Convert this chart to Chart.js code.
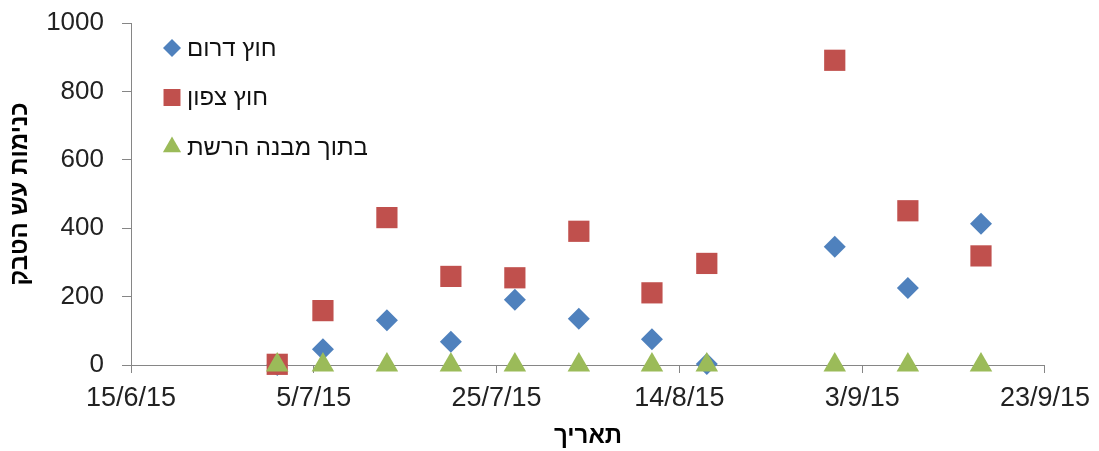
<!DOCTYPE html>
<html lang="he">
<head>
<meta charset="utf-8">
<title>כנימות עש הטבק</title>
<script src="https://cdn.jsdelivr.net/npm/chart.js@4.4.1/dist/chart.umd.min.js"></script>
<style>
  html, body { margin: 0; padding: 0; background: #fff; }
  #wrap { width: 1099px; height: 451px; }
</style>
</head>
<body>
<div id="wrap"><canvas id="chart" width="1099" height="451"></canvas></div>
<script>
// sample dates (d/m/yy) and counts per trap location
const sampleDates = ['1/7/15', '6/7/15', '13/7/15', '20/7/15', '27/7/15', '3/8/15', '11/8/15', '17/8/15', '31/8/15', '8/9/15', '16/9/15'];
const southValues = [0, 46, 131, 68, 191, 135, 75, 3, 346, 225, 413];
const northValues = [2, 159, 431, 259, 255, 391, 211, 297, 891, 451, 319];
const insideValues = [0, 0, 0, 0, 0, 0, 0, 0, 0, 0, 0];
const seriesNames = ['חוץ דרום', 'חוץ צפון', 'בתוך מבנה הרשת'];
const xTickLabels = ['15/6/15', '5/7/15', '25/7/15', '14/8/15', '3/9/15', '23/9/15'];

const DAY = 86400000;
const parseDate = (s) => {
    const [d, m, y] = s.split('/').map(Number);
    return Date.UTC(2000 + y, m - 1, d);
};
const origin = parseDate(xTickLabels[0]);
const toDay = (s) => Math.round((parseDate(s) - origin) / DAY);
const fmtDay = (v) => {
    const dt = new Date(origin + v * DAY);
    return dt.getUTCDate() + '/' + (dt.getUTCMonth() + 1) + '/' + String(dt.getUTCFullYear()).slice(2);
};
const points = (vals) => sampleDates.map((d, i) => ({ x: toDay(d), y: vals[i] }));

const FONT = '"Liberation Sans", Arial, sans-serif';
const axisGray = '#868686';
const legendRadius = [9, 12, 10.5];

// legend drawn inside the plot, top left, one item per row
const insideLegend = {
    id: 'insideLegend',
    afterDatasetsDraw(chart) {
        const { ctx, chartArea } = chart;
        ctx.save();
        ctx.font = '24px ' + FONT;
        ctx.textBaseline = 'middle';
        ctx.textAlign = 'left';
        chart.data.datasets.forEach((ds, i) => {
            const x = chartArea.left + 41;
            const y = chartArea.top + 25 + i * 49.5;
            ctx.fillStyle = ds.backgroundColor;
            ctx.strokeStyle = ds.backgroundColor;
            Chart.helpers.drawPoint(ctx, { pointStyle: ds.pointStyle, radius: legendRadius[i], borderWidth: 0, rotation: 0 }, x, y);
            ctx.fillStyle = '#111';
            ctx.fillText(ds.label, x + 15, y + 1);
        });
        ctx.restore();
    }
};

new Chart(document.getElementById('chart'), {
    type: 'scatter',
    data: {
        datasets: [
            { label: seriesNames[0], data: points(southValues), backgroundColor: '#4F81BD', borderColor: '#4F81BD', pointStyle: 'rectRot', pointRadius: 11, borderWidth: 0, order: 3, clip: false },
            { label: seriesNames[1], data: points(northValues), backgroundColor: '#C0504D', borderColor: '#C0504D', pointStyle: 'rect', pointRadius: 15, borderWidth: 0, order: 2, clip: false },
            { label: seriesNames[2], data: points(insideValues), backgroundColor: '#9BBB59', borderColor: '#9BBB59', pointStyle: 'triangle', pointRadius: 13, borderWidth: 0, order: 1, clip: false }
        ]
    },
    options: {
        responsive: false,
        animation: false,
        devicePixelRatio: 1,
        layout: { autoPadding: false, padding: { top: 23, right: 53, bottom: 0, left: 0 } },
        plugins: { legend: { display: false }, tooltip: { enabled: false } },
        scales: {
            x: {
                type: 'linear',
                min: 0,
                max: toDay(xTickLabels[xTickLabels.length - 1]),
                afterFit: (s) => { s.height = 86; },
                ticks: {
                    stepSize: 20,
                    color: '#222',
                    font: { size: 27, family: FONT },
                    padding: 9,
                    maxRotation: 0,
                    callback: (v) => fmtDay(v)
                },
                grid: { drawOnChartArea: false, drawTicks: true, tickLength: 8, color: axisGray },
                border: { display: true, color: axisGray },
                title: { display: true, text: 'תאריך', color: '#000', font: { size: 24, weight: 'bold', family: FONT }, padding: { top: 0, bottom: 0 } }
            },
            y: {
                min: 0,
                max: 1000,
                afterFit: (s) => { s.width = 131; s.paddingTop = 12; s.paddingBottom = 12; },
                ticks: {
                    stepSize: 200,
                    color: '#222',
                    font: { size: 26, family: FONT },
                    padding: 18,
                    callback: (v) => String(v)
                },
                grid: { drawOnChartArea: false, drawTicks: true, tickLength: 9, color: axisGray },
                border: { display: true, color: axisGray },
                title: { display: true, text: 'כנימות עש הטבק', color: '#000', font: { size: 24, weight: 'bold', family: FONT }, padding: { top: 6, bottom: 0 } }
            }
        }
    },
    plugins: [insideLegend]
});
</script>
</body>
</html>
